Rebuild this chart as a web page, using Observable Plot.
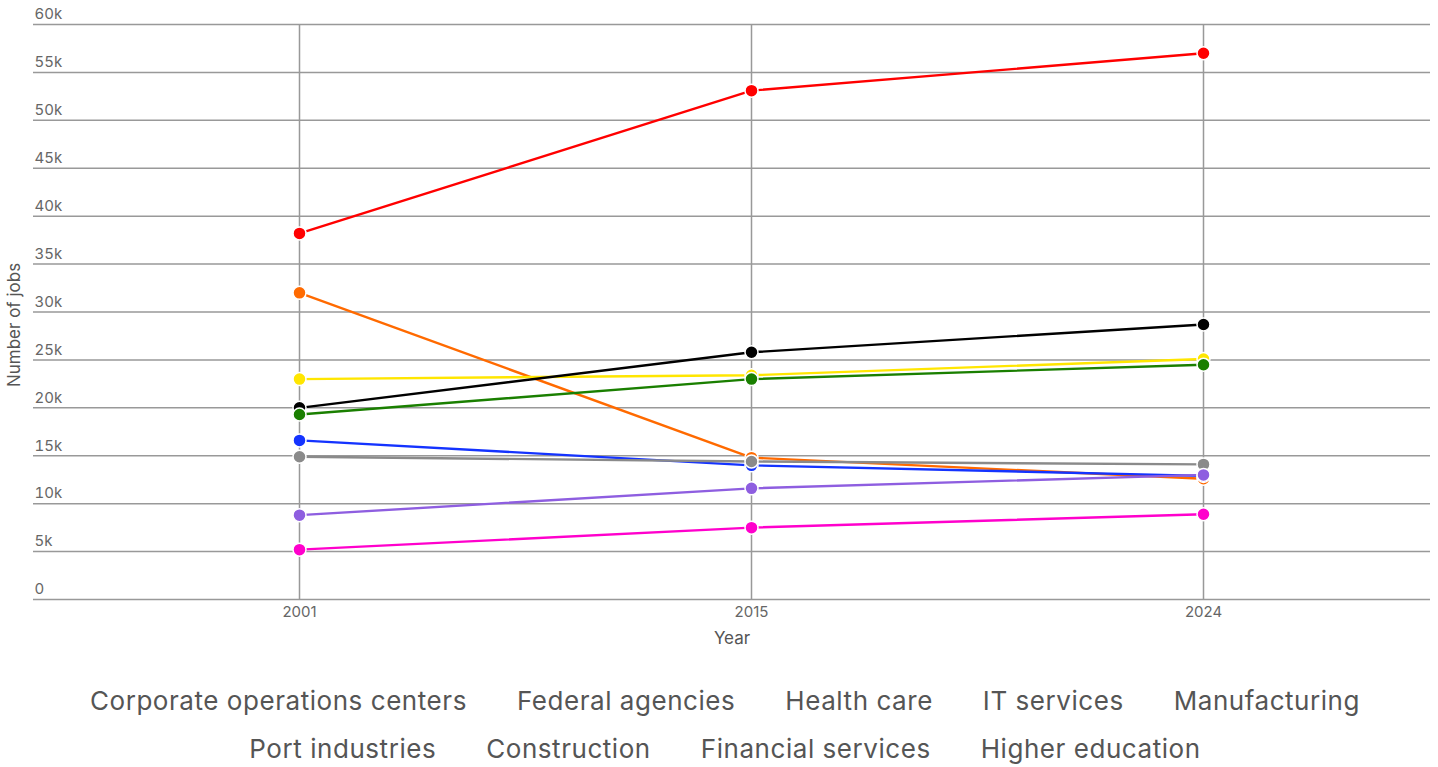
<!DOCTYPE html>
<html>
<head>
<meta charset="utf-8">
<script src="https://cdn.jsdelivr.net/npm/d3@7"></script>
<script src="https://cdn.jsdelivr.net/npm/@observablehq/plot@0.6"></script>
<style>
  html, body { margin: 0; padding: 0; background: #fff; }
  #chart svg { display: block; }
  .legend {
    display: flex; flex-wrap: wrap; justify-content: center;
    column-gap: 50px; row-gap: 0;
    width: 1438px; box-sizing: border-box; padding: 17px 0 0 12px;
    font-family: Inter, sans-serif; font-size: 26px; letter-spacing: 0.55px; line-height: 48px; color: #555;
  }
</style>
</head>
<body>
<div id="chart"></div>
<script>
const years = ["2001", "2015", "2024"];
const categories = [
  "Corporate operations centers", "Federal agencies", "Health care", "IT services", "Manufacturing",
  "Port industries", "Construction", "Financial services", "Higher education"
];
const colors = ["#ff0000", "#ff6a00", "#ffe600", "#000000", "#1a7f00", "#1433ff", "#8a8a8a", "#8e5ee0", "#ff00cc"];
const corporateOps = [38200, 53100, 57000];
const federalAgencies = [32000, 14800, 12600];
const healthCare = [23000, 23400, 25100];
const itServices = [20000, 25800, 28700];
const manufacturing = [19300, 23000, 24500];
const portIndustries = [16600, 14000, 12900];
const construction = [14900, 14400, 14100];
const financialServices = [8800, 11600, 13000];
const higherEducation = [5200, 7500, 8900];
const yTicks = [0, 5000, 10000, 15000, 20000, 25000, 30000, 35000, 40000, 45000, 50000, 55000, 60000];
const yTickLabels = ["0", "5k", "10k", "15k", "20k", "25k", "30k", "35k", "40k", "45k", "50k", "55k", "60k"];

const seriesValues = [corporateOps, federalAgencies, healthCare, itServices, manufacturing,
  portIndustries, construction, financialServices, higherEducation];
const data = [];
categories.forEach((c, i) => years.forEach((y, j) => data.push({category: c, year: y, value: seriesValues[i][j]})));

const font = "Inter, sans-serif";
const chart = Plot.plot({
  width: 1438,
  height: 660,
  marginLeft: 33,
  marginRight: 8,
  marginTop: 24,
  marginBottom: 61,
  style: {fontFamily: font, fontSize: "14px", color: "#666", background: "#fff"},
  x: {type: "point", domain: years, padding: 0.5437, align: 0.539, label: null},
  y: {domain: [0, 60000], label: null},
  color: {domain: categories, range: colors},
  marks: [
    Plot.ruleY(yTicks, {stroke: "#999", strokeWidth: 1.5}),
    Plot.ruleX(years, {x: d => d, stroke: "#999", strokeWidth: 1.5}),
    Plot.axisY(yTicks, {anchor: "left", tickSize: 0, tickPadding: 0, textAnchor: "start", dx: 1, dy: -10,
      tickFormat: (d) => yTickLabels[yTicks.indexOf(d)], fill: "#666", fontSize: 15, fontFamily: font, label: null}),
    Plot.axisX(years, {anchor: "bottom", tickSize: 0, tickPadding: 7, fill: "#666", fontSize: 15, fontFamily: font, label: null}),
    Plot.text(["Year"], {frameAnchor: "bottom", lineAnchor: "middle", dy: 39, fill: "#555", fontSize: 17, fontFamily: font}),
    Plot.text(["Number of jobs"], {frameAnchor: "left", textAnchor: "middle", lineAnchor: "middle", rotate: -90, dx: -19, dy: 13, fill: "#555", fontSize: 17, fontFamily: font}),
    Plot.line(data, {x: "year", y: "value", z: "category", stroke: "category", strokeWidth: 2.4}),
    Plot.dot(data, {x: "year", y: "value", fill: "category", r: 6.5, stroke: "white", strokeWidth: 1.5})
  ]
});
document.getElementById("chart").appendChild(chart);

const legend = document.createElement("div");
legend.className = "legend";
categories.forEach(c => {
  const s = document.createElement("span");
  s.textContent = c;
  legend.appendChild(s);
});
document.body.appendChild(legend);
</script>
</body>
</html>
